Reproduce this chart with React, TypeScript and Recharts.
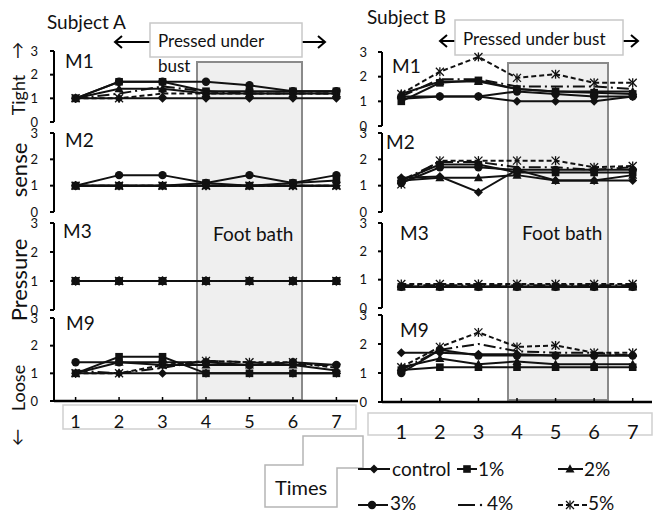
import React from 'react';
import { LineChart, Line, XAxis, YAxis } from 'recharts';

const FONT = "Lato, 'Open Sans', sans-serif";

const times = ['1', '2', '3', '4', '5', '6', '7'];
const seriesNames = ['control', '1%', '2%', '3%', '4%', '5%'];
const yTicks = [0, 1, 2, 3];

// rows: control, 1%, 2%, 3%, 4%, 5%
const subjectA_M1 = [
  [1, 1, 1, 1, 1, 1, 1],
  [1, 1.7, 1.7, 1.3, 1.3, 1.3, 1.3],
  [1, 1.4, 1.4, 1.2, 1.2, 1.2, 1.2],
  [1, 1.7, 1.7, 1.7, 1.55, 1.3, 1.3],
  [1, 1.2, 1.5, 1.3, 1.2, 1.2, 1.2],
  [1, 1, 1.2, 1.2, 1.2, 1.2, 1.2],
];
const subjectA_M2 = [
  [1, 1, 1, 1, 1, 1, 1],
  [1, 1, 1, 1.1, 1, 1.1, 1.2],
  [1, 1, 1, 1, 1, 1, 1],
  [1, 1.4, 1.4, 1.1, 1.4, 1.1, 1.4],
  [1, 1, 1, 1, 1, 1, 1],
  [1, 1, 1, 1, 1, 1, 1],
];
const subjectA_M3 = [
  [1, 1, 1, 1, 1, 1, 1],
  [1, 1, 1, 1, 1, 1, 1],
  [1, 1, 1, 1, 1, 1, 1],
  [1, 1, 1, 1, 1, 1, 1],
  [1, 1, 1, 1, 1, 1, 1],
  [1, 1, 1, 1, 1, 1, 1],
];
const subjectA_M9 = [
  [1, 1, 1, 1, 1, 1, 1],
  [1, 1.6, 1.6, 1, 1, 1, 1],
  [1, 1.4, 1.3, 1.3, 1.3, 1.3, 1.1],
  [1.4, 1.4, 1.4, 1.4, 1.3, 1.4, 1.3],
  [1.1, 1, 1.2, 1.45, 1.4, 1.3, 1.3],
  [1, 1, 1.3, 1.45, 1.4, 1.4, 1.2],
];
const subjectB_M1 = [
  [1.1, 1.2, 1.2, 1, 1, 1, 1.2],
  [1, 1.75, 1.85, 1.5, 1.4, 1.35, 1.3],
  [1.3, 1.8, 1.8, 1.5, 1.4, 1.4, 1.4],
  [1.2, 1.2, 1.2, 1.4, 1.3, 1.2, 1.2],
  [1.2, 1.9, 1.9, 1.6, 1.6, 1.6, 1.5],
  [1.3, 2.2, 2.8, 1.95, 2.1, 1.75, 1.75],
];
const subjectB_M2 = [
  [1.3, 1.35, 0.75, 1.6, 1.2, 1.2, 1.2],
  [1.2, 1.8, 1.8, 1.5, 1.5, 1.5, 1.5],
  [1.2, 1.3, 1.3, 1.4, 1.2, 1.2, 1.4],
  [1.1, 1.7, 1.7, 1.6, 1.6, 1.6, 1.6],
  [1.2, 1.9, 1.9, 1.7, 1.7, 1.6, 1.7],
  [1.05, 1.95, 1.95, 1.95, 1.95, 1.7, 1.75],
];
const subjectB_M3 = [
  [0.75, 0.75, 0.75, 0.75, 0.75, 0.75, 0.75],
  [0.75, 0.75, 0.75, 0.75, 0.75, 0.75, 0.75],
  [0.75, 0.75, 0.75, 0.75, 0.75, 0.75, 0.75],
  [0.75, 0.75, 0.75, 0.75, 0.75, 0.75, 0.75],
  [0.8, 0.8, 0.8, 0.8, 0.8, 0.8, 0.8],
  [0.85, 0.85, 0.85, 0.85, 0.85, 0.85, 0.85],
];
const subjectB_M9 = [
  [1.7, 1.7, 1.65, 1.65, 1.6, 1.6, 1.6],
  [1.1, 1.2, 1.2, 1.2, 1.2, 1.2, 1.2],
  [1.2, 1.5, 1.3, 1.4, 1.3, 1.3, 1.3],
  [1.0, 1.8, 1.6, 1.6, 1.6, 1.6, 1.6],
  [1.1, 1.8, 2.0, 1.75, 1.7, 1.7, 1.6],
  [1.2, 1.9, 2.4, 1.9, 1.95, 1.7, 1.7],
];

// layout (pixels) — not data
const columns = [
  { left: 0, width: 358, yw: 54, pad: 21.6, yMargin: 12, xMargin: 18, xFont: 18 },
  { left: 330, width: 322, yw: 52, pad: 19.3, yMargin: 11, xMargin: 27, xFont: 20 },
];
const panels = [
  { values: subjectA_M1, col: 0, top: 51, bottom: 122, last: false },
  { values: subjectA_M2, col: 0, top: 133, bottom: 212, last: false },
  { values: subjectA_M3, col: 0, top: 223, bottom: 310, last: false },
  { values: subjectA_M9, col: 0, top: 318, bottom: 401, last: true },
  { values: subjectB_M1, col: 1, top: 52, bottom: 126, last: false },
  { values: subjectB_M2, col: 1, top: 133, bottom: 212, last: false },
  { values: subjectB_M3, col: 1, top: 223, bottom: 308, last: false },
  { values: subjectB_M9, col: 1, top: 315, bottom: 402, last: true },
];

const markerTypes = ['diamond', 'square', 'triangle', 'circle', 'none', 'star'];
const dashes = [undefined, undefined, undefined, undefined, '12 4 2 4', '5 3'];
const INK = '#111';

function Marker({ type, cx, cy }: { type: string; cx: number; cy: number }) {
  if (type === 'diamond')
    return <polygon points={`${cx},${cy - 4.5} ${cx + 4.5},${cy} ${cx},${cy + 4.5} ${cx - 4.5},${cy}`} fill={INK} />;
  if (type === 'square') return <rect x={cx - 3.8} y={cy - 3.8} width={7.6} height={7.6} fill={INK} />;
  if (type === 'triangle')
    return <polygon points={`${cx},${cy - 4.8} ${cx + 4.5},${cy + 3.5} ${cx - 4.5},${cy + 3.5}`} fill={INK} />;
  if (type === 'circle') return <circle cx={cx} cy={cy} r={4.2} fill={INK} />;
  if (type === 'star')
    return (
      <g stroke={INK} strokeWidth={1.3}>
        <line x1={cx - 4} y1={cy - 4} x2={cx + 4} y2={cy + 4} />
        <line x1={cx - 4} y1={cy + 4} x2={cx + 4} y2={cy - 4} />
        <line x1={cx} y1={cy - 4.5} x2={cx} y2={cy + 4.5} />
      </g>
    );
  return <g />;
}

function Panel({ p }: { p: (typeof panels)[number] }) {
  const c = columns[p.col];
  const mTop = 10;
  const mBottom = p.last ? 0 : 10;
  const xh = p.last ? 40 : 0;
  const height = p.bottom - p.top + mTop + mBottom + xh;
  const data = times.map((t, i) => {
    const row: any = { t };
    p.values.forEach((s, j) => (row['s' + j] = s[i]));
    return row;
  });
  return (
    <div style={{ position: 'absolute', left: c.left, top: p.top - mTop }}>
      <LineChart
        width={c.width}
        height={height}
        data={data}
        margin={{ top: mTop, right: 0, left: 0, bottom: mBottom }}
      >
        <XAxis
          dataKey="t"
          hide={!p.last}
          height={40}
          padding={{ left: c.pad, right: c.pad }}
          axisLine={{ stroke: '#000', strokeWidth: 2.5 }}
          tickLine={{ stroke: '#000', strokeWidth: 1.5 }}
          tickSize={-4}
          tickMargin={c.xMargin}
          interval={0}
          tick={{ fontSize: c.xFont, fill: '#111', fontFamily: FONT }}
        />
        <YAxis
          domain={[0, 3]}
          ticks={yTicks}
          interval={0}
          width={c.yw}
          tickSize={4}
          tickMargin={c.yMargin}
          axisLine={{ stroke: '#000', strokeWidth: 2 }}
          tickLine={{ stroke: '#000', strokeWidth: 2 }}
          tick={{ fontSize: 13, fill: '#111', fontFamily: FONT }}
        />
        {seriesNames.map((name, j) => (
          <Line
            key={name}
            name={name}
            dataKey={'s' + j}
            type="linear"
            stroke={INK}
            strokeWidth={2}
            strokeDasharray={dashes[j]}
            isAnimationActive={false}
            dot={(props: any) => (
              <Marker key={name + props.index} type={markerTypes[j]} cx={props.cx} cy={props.cy} />
            )}
            activeDot={false}
          />
        ))}
      </LineChart>
    </div>
  );
}

function Arrow({ x1, x2, y }: { x1: number; x2: number; y: number }) {
  return (
    <g stroke="#000" strokeWidth={2} fill="none">
      <line x1={x1} y1={y} x2={x2} y2={y} />
      <path d={`M${x1 + 7},${y - 6} L${x1},${y} L${x1 + 7},${y + 6}`} />
      <path d={`M${x2 - 7},${y - 6} L${x2},${y} L${x2 - 7},${y + 6}`} />
    </g>
  );
}

function Background() {
  const t = { fontFamily: FONT, fill: '#111' } as const;
  return (
    <svg width={660} height={513} style={{ position: 'absolute', left: 0, top: 0 }}>
      {/* foot bath shading */}
      <rect x={197} y={62} width={105} height={338} fill="#efefef" stroke="#8a8a8a" strokeWidth={2} />
      <rect x={508} y={63} width={100} height={337} fill="#efefef" stroke="#8a8a8a" strokeWidth={2} />

      <text x={47} y={29} fontSize={19} {...t}>Subject A</text>
      <text x={367} y={24} fontSize={19} {...t}>Subject B</text>

      <Arrow x1={115} x2={325} y={42} />
      <rect x={150} y={23} width={152} height={34} fill="#fff" stroke="#c8c8c8" strokeWidth={1.5} />
      <text x={158} y={47} fontSize={17} {...t}>Pressed under</text>
      <text x={158} y={72} fontSize={17} {...t}>bust</text>

      <Arrow x1={440} x2={638} y={41} />
      <rect x={455} y={20} width={168} height={35} fill="#fff" stroke="#c8c8c8" strokeWidth={1.5} />
      <text x={463} y={45} fontSize={17} {...t}>Pressed under bust</text>

      <text x={65} y={68} fontSize={19} {...t}>M1</text>
      <text x={65} y={147} fontSize={19} {...t}>M2</text>
      <text x={63} y={238} fontSize={19} {...t}>M3</text>
      <text x={66} y={330} fontSize={19} {...t}>M9</text>
      <text x={392} y={73} fontSize={19} {...t}>M1</text>
      <text x={386} y={149} fontSize={19} {...t}>M2</text>
      <text x={400} y={240} fontSize={19} {...t}>M3</text>
      <text x={400} y={337} fontSize={19} {...t}>M9</text>

      <text x={213} y={241} fontSize={19} {...t}>Foot bath</text>
      <text x={522} y={240} fontSize={19} {...t}>Foot bath</text>

      {/* y-axis side labels */}
      <text x={18} y={56} fontSize={17} textAnchor="middle" {...t}>↑</text>
      <text x={25} y={95} fontSize={18} textAnchor="middle" transform="rotate(-90 25 95)" {...t}>Tight</text>
      <text x={27} y={170} fontSize={22} textAnchor="middle" transform="rotate(-90 27 170)" {...t}>sense</text>
      <text x={27} y={280} fontSize={22} textAnchor="middle" transform="rotate(-90 27 280)" {...t}>Pressure</text>
      <text x={25} y={388} fontSize={18} textAnchor="middle" transform="rotate(-90 25 388)" {...t}>Loose</text>
      <text x={18} y={442} fontSize={17} textAnchor="middle" {...t}>↓</text>

      {/* x label boxes */}
      <rect x={63} y={405} width={293} height={24} fill="none" stroke="#cfcfcf" strokeWidth={1.5} />
      <rect x={368} y={413} width={284} height={22} fill="none" stroke="#cfcfcf" strokeWidth={1.5} />

      {/* Times callout */}
      <path
        d="M265,465 L303,465 L303,436 L363,436 L363,468 L337,468 L337,507 L265,507 Z"
        fill="#fff"
        stroke="#b5b5b5"
        strokeWidth={1.5}
      />
      <text x={275} y={495} fontSize={20} {...t}>Times</text>

      {/* legend */}
      <g stroke={INK} strokeWidth={2}>
        <line x1={358} y1={469} x2={390} y2={469} />
        <line x1={457} y1={469} x2={477} y2={469} />
        <line x1={558} y1={469} x2={583} y2={469} />
        <line x1={358} y1={505} x2={388} y2={505} />
        <line x1={458} y1={505} x2={475} y2={505} />
        <line x1={558} y1={505} x2={587} y2={505} strokeDasharray="5 3" />
      </g>
      <Marker type="diamond" cx={374} cy={469} />
      <Marker type="square" cx={467} cy={469} />
      <Marker type="triangle" cx={570} cy={469} />
      <Marker type="circle" cx={372} cy={505} />
      <circle cx={481} cy={505} r={1.2} fill={INK} />
      <Marker type="star" cx={570} cy={505} />
      <text x={392} y={476} fontSize={19} {...t}>{seriesNames[0]}</text>
      <text x={478} y={476} fontSize={19} {...t}>{seriesNames[1]}</text>
      <text x={584} y={476} fontSize={19} {...t}>{seriesNames[2]}</text>
      <text x={390} y={510} fontSize={19} {...t}>{seriesNames[3]}</text>
      <text x={487} y={510} fontSize={19} {...t}>{seriesNames[4]}</text>
      <text x={588} y={510} fontSize={19} {...t}>{seriesNames[5]}</text>
    </svg>
  );
}

export default function App() {
  return (
    <div
      style={{
        position: 'absolute',
        left: 0,
        top: 0,
        width: 660,
        height: 513,
        background: '#fff',
        overflow: 'hidden',
        fontFamily: FONT,
      }}
    >
      <Background />
      {panels.map((p, i) => (
        <Panel key={i} p={p} />
      ))}
    </div>
  );
}
